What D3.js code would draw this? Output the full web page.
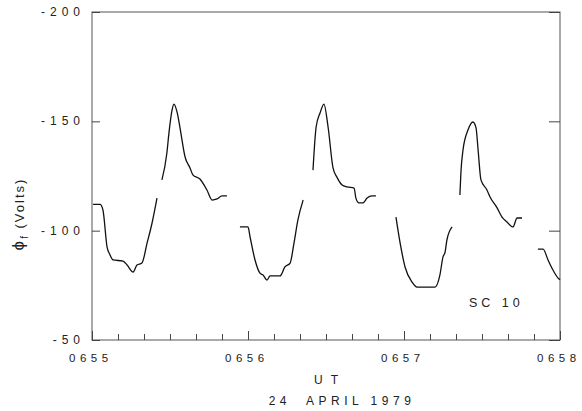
<!DOCTYPE html>
<html><head><meta charset="utf-8">
<script src="https://cdn.jsdelivr.net/npm/d3@7/dist/d3.min.js"></script>
<style>body{margin:0;background:#fff}svg{display:block}</style>
</head><body><svg id="c" width="582" height="411"></svg>
<script>
// ---- data (time in seconds after 06:55:00 UT, potential in volts) ----
const xTickSeconds = d3.range(0, 181, 10);
const xLabelSeconds = [0, 60, 120, 180];
const xTickLabels = ["0655", "0656", "0657", "0658"];
const yTickValues = [-200, -150, -100, -50];
const yTickLabels = ["-200", "-150", "-100", "-50"];

const seg1aTime  = [0.4, 3.1, 4.2, 5.8, 6.9, 8.1, 11.9, 13.5, 15.8, 17.3, 19.2, 21.2, 23.1, 25.0];
const seg1aVolts = [-112, -112, -109.5, -92.5, -89, -86.6, -86.1, -84.3, -81.1, -84.3, -85.2, -94.4, -103.5, -114.9];

const seg1bTime  = [26.9, 28.8, 29.6, 30.8, 31.5, 32.7, 33.8, 35.8, 37.7, 38.8, 41.5, 44.2, 46.2, 48.1, 50.0, 51.9];
const seg1bVolts = [-123.2, -135.5, -144.7, -155.2, -157.9, -154.3, -147.4, -133.7, -128.7, -125.5, -123.6, -118.6, -114.0, -114.5, -115.9, -115.9];

const seg2aTime  = [56.9, 60.0, 60.8, 62.7, 64.6, 65.8, 67.3, 68.5, 72.3, 74.2, 76.2, 77.7, 79.2, 81.2];
const seg2aVolts = [-101.7, -101.7, -97.1, -86.6, -80.6, -79.7, -77.4, -79.3, -79.3, -83.4, -85.2, -94.4, -104.9, -114.0];

const seg2bTime  = [85.0, 86.2, 87.7, 89.2, 90.8, 92.7, 94.2, 96.2, 98.1, 100.8, 101.5, 102.7, 104.2, 105.8, 107.7, 109.2];
const seg2bVolts = [-127.7, -147.4, -153.8, -157.9, -147.4, -128.7, -124.5, -120.9, -120.0, -119.5, -114.9, -112.7, -112.7, -114.9, -115.9, -115.9];

const seg3aTime  = [116.9, 118.5, 120.4, 123.1, 125.0, 131.9, 133.8, 135.0, 135.8, 136.5, 138.5];
const seg3aVolts = [-106.2, -94.4, -83.4, -76.5, -74.2, -74.2, -79.7, -88.0, -90.2, -95.7, -101.7];

const seg3bTime  = [141.5, 141.9, 142.7, 144.6, 146.5, 147.7, 148.5, 149.6, 151.9, 153.1, 155.8, 157.7, 159.6, 161.9, 163.5, 165.4];
const seg3bVolts = [-116.3, -126.8, -136.9, -146.0, -149.7, -147.0, -136.9, -123.2, -118.6, -115.4, -110.4, -106.2, -104.0, -101.7, -105.8, -105.8];

const seg4Time   = [171.5, 173.5, 175.4, 177.3, 179.2, 180];
const seg4Volts  = [-91.6, -91.6, -86.6, -82.0, -78.4, -77.5];

const segments = [
  [seg1aTime, seg1aVolts], [seg1bTime, seg1bVolts],
  [seg2aTime, seg2aVolts], [seg2bTime, seg2bVolts],
  [seg3aTime, seg3aVolts], [seg3bTime, seg3bVolts],
  [seg4Time, seg4Volts]
];

// ---- drawing ----
const svg = d3.select("#c");
const font = "'Liberation Sans', Arial, sans-serif";
const ink = "#222";
const x = d3.scaleLinear().domain([0, 180]).range([92, 560]);
const y = d3.scaleLinear().domain([-200, -50]).range([12, 340]);

// frame
svg.append("rect")
  .attr("x", x(0)).attr("y", y(-200))
  .attr("width", x(180) - x(0)).attr("height", y(-50) - y(-200))
  .attr("fill", "none").attr("stroke", "#555").attr("stroke-width", 1);

// bottom ticks (inward)
const gx = svg.append("g").attr("transform", `translate(0,${y(-50)})`)
  .call(d3.axisBottom(x).tickValues(xTickSeconds).tickSize(-6).tickFormat(""));
gx.select(".domain").remove();
gx.selectAll(".tick line").attr("stroke", "#444")
  .attr("y2", d => xLabelSeconds.includes(d) ? -9 : -6);

// bottom labels
svg.append("g").selectAll("text").data(xLabelSeconds).join("text")
  .attr("x", d => x(d) - 23).attr("y", 362)
  .attr("text-anchor", "start")
  .style("font-family", font).style("font-size", "11.5px").style("letter-spacing", "4.5px")
  .attr("fill", ink)
  .text((d, i) => xTickLabels[i]);

// left ticks
const gyl = svg.append("g").attr("transform", `translate(${x(0)},0)`)
  .call(d3.axisLeft(y).tickValues(yTickValues).tickSize(-8).tickFormat(""));
gyl.select(".domain").remove();
gyl.selectAll(".tick line").attr("stroke", "#444");
// right ticks
const gyr = svg.append("g").attr("transform", `translate(${x(180)},0)`)
  .call(d3.axisRight(y).tickValues(yTickValues).tickSize(-11).tickFormat(""));
gyr.select(".domain").remove();
gyr.selectAll(".tick line").attr("stroke", "#444");

// left labels
svg.append("g").selectAll("text").data(yTickValues).join("text")
  .attr("x", 85).attr("y", d => y(d) + 4)
  .attr("text-anchor", "end")
  .style("font-family", font).style("font-size", "12px").style("letter-spacing", "5px")
  .attr("fill", ink)
  .text((d, i) => yTickLabels[i]);

// y axis title
const yt = svg.append("text")
  .attr("transform", "translate(24,214) rotate(-90)")
  .attr("text-anchor", "middle")
  .style("font-family", font).style("font-size", "13px").style("letter-spacing", "2px")
  .attr("fill", ink);
yt.append("tspan").text("\u03D5").style("font-size", "17px");
yt.append("tspan").text("f").attr("dy", 4).style("font-size", "10px");
yt.append("tspan").text(" (Volts)").attr("dy", -4);

// x titles
svg.append("text").attr("x", 330).attr("y", 384).attr("text-anchor", "middle")
  .style("font-family", font).style("font-size", "12px").style("letter-spacing", "8px")
  .attr("fill", ink).text("UT");
svg.append("text").attr("x", 342).attr("y", 405).attr("text-anchor", "middle")
  .style("font-family", font).style("font-size", "12px").style("letter-spacing", "4.5px")
  .style("white-space", "pre")
  .attr("fill", ink).text("24  APRIL 1979");

// annotation
svg.append("text").attr("x", 469).attr("y", 307)
  .style("font-family", font).style("font-size", "12.5px").style("letter-spacing", "4px")
  .attr("fill", ink).text("SC 10");

// curves
const line = d3.line().x(d => x(d[0])).y(d => y(d[1])).curve(d3.curveMonotoneX);
svg.append("g").selectAll("path").data(segments).join("path")
  .attr("d", s => line(s[0].map((t, i) => [t, s[1][i]])))
  .attr("fill", "none").attr("stroke", "#111").attr("stroke-width", 1.3)
  .attr("stroke-linejoin", "round");
</script></body></html>
